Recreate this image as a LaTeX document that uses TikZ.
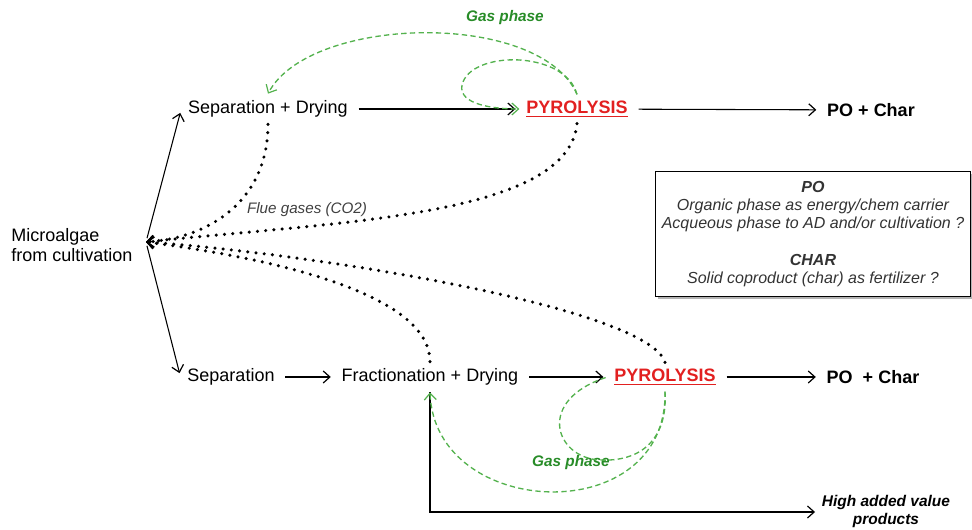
\documentclass[tikz,border=0pt]{standalone}
\usepackage{fontspec}
\setmainfont{Liberation Sans}
\usetikzlibrary{arrows.meta,shadows}
\definecolor{pyrored}{RGB}{226,32,32}
\definecolor{gasgreen}{RGB}{84,178,78}
\definecolor{gastext}{RGB}{40,140,40}

\begin{document}
\begin{tikzpicture}[x=0.75pt,y=-0.75pt]
		\tikzset{stage/.style={font=\fontsize{13.5}{15}\selectfont, inner sep=5pt}}
		\tikzset{pyro/.style={stage, text=pyrored, font=\fontsize{13.5}{15}\selectfont\bfseries}}
		\tikzset{prod/.style={stage, font=\fontsize{13.5}{15}\selectfont\bfseries}}
		\tikzset{hav/.style={stage, align=center, font=\fontsize{11.6}{13.5}\selectfont\bfseries\itshape}}
		\tikzset{gaslabel/.style={text=gastext, font=\fontsize{11.5}{13}\selectfont\bfseries\itshape}}
		\tikzset{fluelabel/.style={text=black!75, font=\fontsize{11.4}{13}\selectfont\itshape}}
		\tikzset{tip/.style={-{Straight Barb[length=5pt,width=9pt,line width=0.9pt]}}}
		\tikzset{flow/.style={tip, line width=0.8pt, shorten >=3pt, shorten <=3pt}}
		\tikzset{flue/.style={line width=2.6pt, dash pattern=on 0pt off 6.2pt, line cap=round, -{Straight Barb[length=5pt,width=9pt,line width=1pt]}}}
		\tikzset{gas/.style={gasgreen, line width=1pt, dash pattern=on 4pt off 2.5pt}}
		\tikzset{notebox/.style={draw, fill=white, align=center, minimum width=236pt, minimum height=94pt,
			font=\fontsize{12}{13.5}\selectfont\itshape, text=black!80,
			drop shadow={shadow xshift=2pt, shadow yshift=-2pt, opacity=0.6}}}
		\useasboundingbox (0,0) rectangle (972,530);
		\node[stage, align=left] (algae) at (72,245) {Microalgae\\from cultivation};
		\coordinate (hub) at (146,242);
		\node[stage] (sepdry) at (268,109) {Separation + Drying};
		\node[pyro] (pyro1) at (577,109) {\underline{PYROLYSIS}};
		\node[prod] (prod1) at (871,110) {PO + Char};
		\node[stage] (sep) at (231,377) {Separation};
		\node[stage] (fracdry) at (430,377) {Fractionation + Drying};
		\node[pyro] (pyro2) at (665,377) {\underline{PYROLYSIS}};
		\node[prod] (prod2) at (873,377) {PO\ \ + Char};
		\node[hav] (prodhav) at (886,512) {High added value\\products};
		\node[gaslabel] (gastop) at (505,18) {Gas phase};
		\node[gaslabel] (gasbot) at (571,463) {Gas phase};
		\node[fluelabel] (flue) at (307,210) {Flue gases (CO2)};
		\node[notebox] (notes) at (813,234) {\textbf{PO}\\
			Organic phase as energy/chem carrier\\
			Acqueous phase to AD and/or cultivation ?\\[14pt]
			\textbf{CHAR}\\
			Solid coproduct (char) as fertilizer ?};
		% upper line
		\draw[flow] (hub) -- (sepdry.west);
		\draw[flow] (sepdry) -- (pyro1);
		\draw[flow] (pyro1) -- (prod1);
		% lower line
		\draw[flow] (hub) -- (sep.west);
		\draw[flow] (sep) -- (fracdry);
		\draw[flow] (fracdry) -- (pyro2);
		\draw[flow] (pyro2) -- (prod2);
		\draw[tip, line width=1.5pt] (fracdry.south) |- (prodhav.west);
		% flue gases back to the culture
		\draw[flue] (sepdry.south) .. controls (268,200) and (210,238) .. (hub);
		\draw[flue] (pyro1.south) .. controls (568,218) and (330,222) .. (hub);
		\draw[flue] (fracdry.north) .. controls (430,300) and (300,262) .. (hub);
		\draw[flue] (pyro2.north) .. controls (650,310) and (330,255) .. (hub);
		% gas phase loops
		\draw[gas, tip] (pyro1.north) .. controls (540,10) and (310,15) .. (sepdry.north);
		\draw[gas, tip] (pyro1.north) .. controls (565,50) and (470,50) .. (462,85)
			.. controls (458,105) and (495,109) .. (pyro1.west);
		\draw[gas, tip] (pyro2.south) .. controls (668,530) and (435,520) .. (fracdry.south);
		\draw[gas] (pyro2.south) .. controls (668,440) and (640,462) .. (600,460)
			.. controls (555,458) and (535,400) .. (pyro2.west);
\end{tikzpicture}
\end{document}
